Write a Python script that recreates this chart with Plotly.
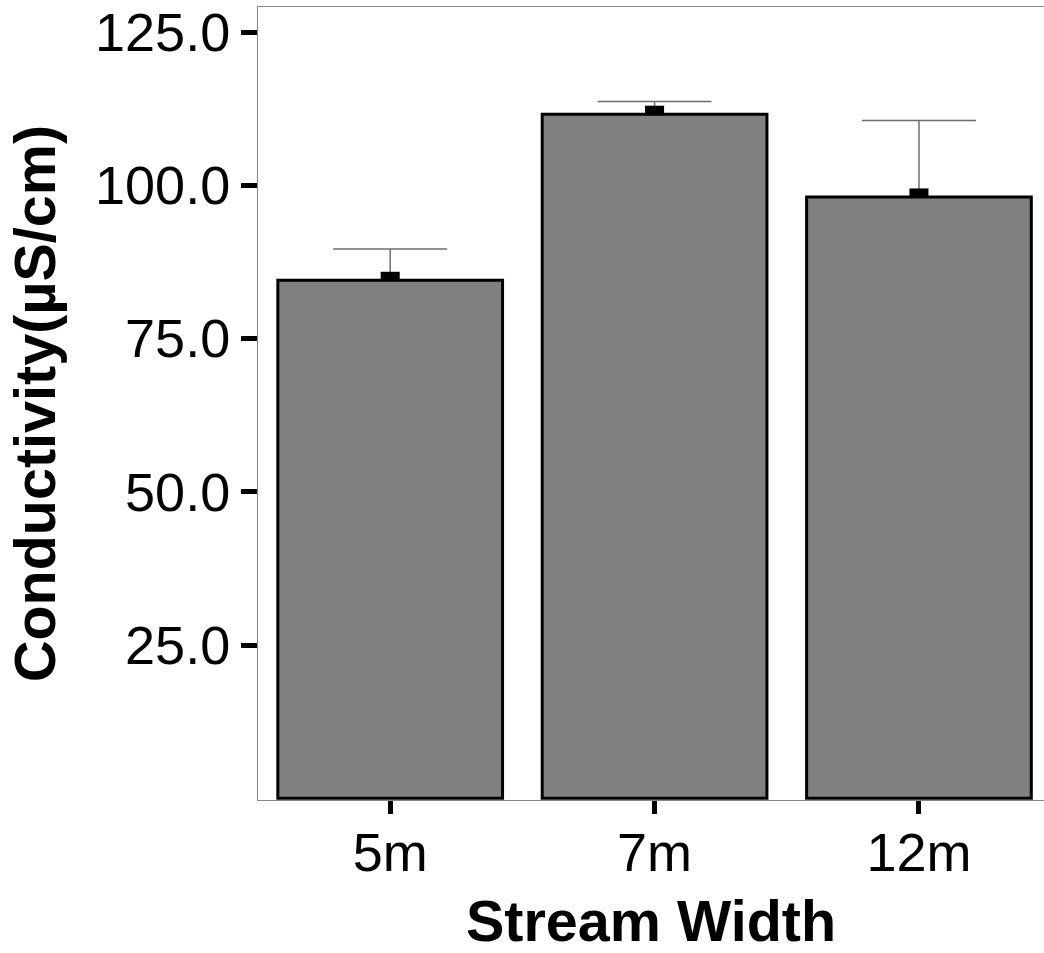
import plotly.graph_objects as go

categories = ["5m", "7m", "12m"]
conductivity = [84.5, 111.6, 98.1]
error_upper = [5.1, 2.1, 12.5]
y_ticks = [25, 50, 75, 100, 125]

x_pos = list(range(len(categories)))
FONT = "Liberation Sans, Arial, sans-serif"

fig = go.Figure()
# error bars (on a transparent bar so the grey bar drawn next hides the lower cap)
fig.add_trace(go.Bar(
    x=x_pos, y=conductivity, width=0.85,
    marker=dict(color="rgba(0,0,0,0)", line=dict(width=0)),
    error_y=dict(type="data", symmetric=False, array=error_upper,
                 arrayminus=[0] * len(categories),
                 color="#6e6e6e", thickness=1.5, width=57),
    showlegend=False, hoverinfo="skip",
))
fig.add_trace(go.Bar(
    x=x_pos, y=conductivity, width=0.85,
    marker=dict(color="#808080", line=dict(color="black", width=3)),
    showlegend=False,
))
# small black mean marker sitting on top of each bar
fig.add_trace(go.Bar(
    x=x_pos, y=[1.4] * len(categories), base=conductivity, width=0.072,
    marker=dict(color="black", line=dict(width=0)),
    showlegend=False,
))

fig.update_layout(
    width=1044, height=953,
    margin=dict(l=258, r=0, t=7, b=153),
    plot_bgcolor="white", paper_bgcolor="white",
    barmode="overlay",
    font=dict(family=FONT, color="black"),
    xaxis=dict(
        range=[-0.5, 2.473],
        tickmode="array", tickvals=x_pos, ticktext=categories,
        tickfont=dict(size=54, family=FONT, color="black"),
        ticks="outside", ticklen=13, tickwidth=5, tickcolor="black",
        ticklabelstandoff=-8,
        showline=True, linecolor="#888888", linewidth=1, mirror=True,
        showgrid=False, zeroline=False,
        title=dict(text="<b>Stream Width</b>", font=dict(size=57.5, family=FONT, color="black"), standoff=20),
    ),
    yaxis=dict(
        range=[-0.28, 129.1],
        tickmode="array", tickvals=y_ticks, ticktext=[f"{v:.1f}" for v in y_ticks],
        tickfont=dict(size=54, family=FONT, color="black"),
        ticks="outside", ticklen=16, tickwidth=5, tickcolor="black",
        showline=True, linecolor="#888888", linewidth=1, mirror=False,
        showgrid=False, zeroline=False,
        title=dict(text="<b>Conductivity(µS/cm)</b>", font=dict(size=57.5, family=FONT, color="black"), standoff=20),
    ),
)

fig.write_html("out.html")
